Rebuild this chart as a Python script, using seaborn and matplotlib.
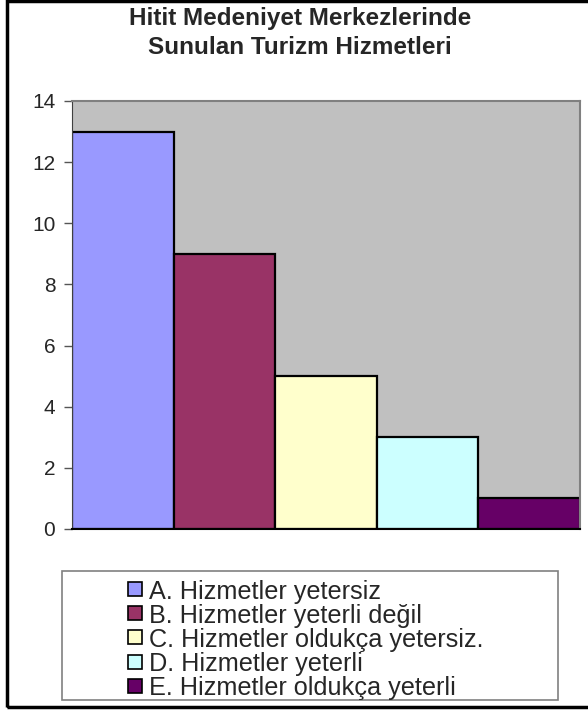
import pandas as pd
import matplotlib.pyplot as plt
import seaborn as sns
from matplotlib.patches import Rectangle

# Chart data
categories = ["A. Hizmetler yetersiz", "B. Hizmetler yeterli değil",
              "C. Hizmetler oldukça yetersiz.", "D. Hizmetler yeterli",
              "E. Hizmetler oldukça yeterli"]
values = [13, 9, 5, 3, 1]
colors = ["#9999FF", "#993366", "#FFFFCC", "#CCFFFF", "#660066"]
yticks = [0, 2, 4, 6, 8, 10, 12, 14]
title = "Hitit Medeniyet Merkezlerinde\nSunulan Turizm Hizmetleri"

sns.set_style("white")
plt.rcParams['font.family'] = ['Liberation Sans', 'DejaVu Sans']

W, H = 588, 713
fig = plt.figure(figsize=(W / 100, H / 100), dpi=100)

# plot area in pixel terms
left, top, right, bottom = 72, 101, 580, 529
ax = fig.add_axes([left / W, 1 - bottom / H, (right - left) / W, (bottom - top) / H])
ax.set_facecolor("#C0C0C0")

df = pd.DataFrame({"cat": categories, "val": values})
sns.barplot(data=df, x="cat", y="val", hue="cat", palette=dict(zip(categories, colors)),
            saturation=1, width=1.0, edgecolor="black", linewidth=1.6,
            legend=False, ax=ax, dodge=False)

ax.set_xlim(-0.5, len(categories) - 0.5)
ax.set_ylim(0, 14)
ax.set_yticks(yticks)
ax.set_xticks([])
ax.set_xlabel("")
ax.set_ylabel("")
ax.tick_params(axis="y", direction="out", length=6, width=1, color="#555555",
               labelsize=15, pad=6, left=True)
for side in ["top", "right"]:
    ax.spines[side].set_color("#808080")
    ax.spines[side].set_linewidth(1.5)
ax.spines["left"].set_color("#404040")
ax.spines["bottom"].set_color("black")
ax.spines["bottom"].set_linewidth(1.5)

fig.text(300 / W, 1 - 33 / H, title, ha="center", va="center", fontsize=17.5,
         fontweight="bold", linespacing=1.3)

# legend box drawn like Excel: centered block inside a framed rectangle
fig.patches.append(Rectangle((62 / W, 1 - 700 / H), (558 - 62) / W, (700 - 571) / H,
                             transform=fig.transFigure, facecolor="white",
                             edgecolor="#808080", linewidth=1.2))
row_y0, row_step = 589, 24.2
for i, (lab, col) in enumerate(zip(categories, colors)):
    yc = row_y0 + i * row_step
    fig.patches.append(Rectangle((128 / W, 1 - (yc + 7) / H), 14 / W, 14 / H,
                                 transform=fig.transFigure, facecolor=col,
                                 edgecolor="black", linewidth=1.2))
    fig.text(149 / W, 1 - yc / H, lab, ha="left", va="center_baseline", fontsize=18.2)

# outer chart border
fig.patches.append(Rectangle((7 / W, 1 - 707 / H), 600 / W, 706 / H,
                             transform=fig.transFigure, fill=False,
                             edgecolor="black", linewidth=2.5, clip_on=False))

fig.savefig("out.png", dpi=100)
plt.close(fig)
